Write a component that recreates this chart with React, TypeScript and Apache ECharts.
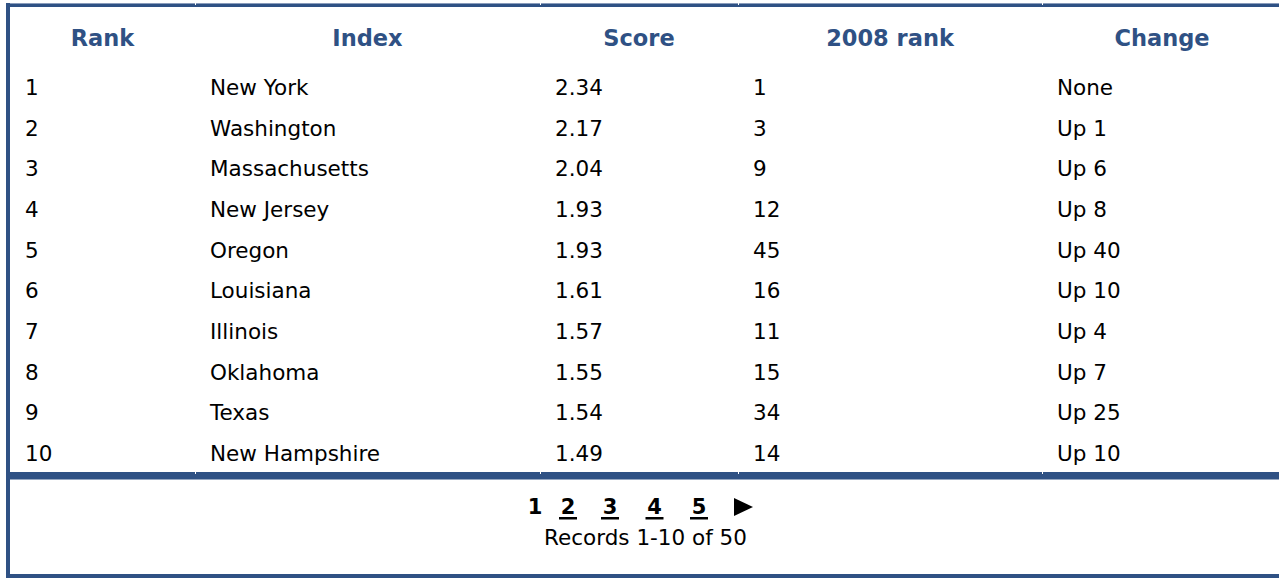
import React, { useEffect, useRef } from "react";
import * as echarts from "echarts";

// ---- data ----
const columns = ["Rank", "Index", "Score", "2008 rank", "Change"];
const ranks = [1, 2, 3, 4, 5, 6, 7, 8, 9, 10];
const states = [
  "New York",
  "Washington",
  "Massachusetts",
  "New Jersey",
  "Oregon",
  "Louisiana",
  "Illinois",
  "Oklahoma",
  "Texas",
  "New Hampshire",
];
const scores = [2.34, 2.17, 2.04, 1.93, 1.93, 1.61, 1.57, 1.55, 1.54, 1.49];
const rank2008 = [1, 3, 9, 12, 45, 16, 11, 15, 34, 14];
const changes = ["None", "Up 1", "Up 6", "Up 8", "Up 40", "Up 10", "Up 4", "Up 7", "Up 25", "Up 10"];
const pages = ["1", "2", "3", "4", "5"];
const currentPage = "1";
const recordsText = "Records 1-10 of 50";

// ---- layout ----
const W = 1279;
const H = 581;
const BLUE = "#2f5184";
const FONT = '"DejaVu Sans", Verdana, sans-serif';
const colEdges = [10, 195, 540, 738, 1042, 1282];
const pageX = [535, 568, 610, 654.5, 699];

export default function App() {
  const ref = useRef<HTMLDivElement>(null);

  useEffect(() => {
    if (!ref.current) return;
    const chart = echarts.init(ref.current, null, { renderer: "svg" });

    const graphic: any[] = [];
    // borders
    graphic.push({ type: "rect", shape: { x: 6, y: 3, width: W - 6, height: 1 }, style: { fill: "#8a9cbb" } });
    graphic.push({ type: "rect", shape: { x: 6, y: 4, width: W - 6, height: 3 }, style: { fill: BLUE } });
    graphic.push({ type: "rect", shape: { x: 6, y: 3, width: 4, height: 575 }, style: { fill: BLUE } });
    graphic.push({ type: "rect", shape: { x: 6, y: 472, width: W - 6, height: 7.5 }, style: { fill: BLUE } });
    graphic.push({ type: "rect", shape: { x: 6, y: 574, width: W - 6, height: 4 }, style: { fill: BLUE } });
    // tiny notches at column boundaries
    colEdges.slice(1, 5).forEach((x) => {
      graphic.push({ type: "rect", shape: { x: x, y: 3, width: 1, height: 2 }, style: { fill: "#ffffff" } });
      graphic.push({ type: "rect", shape: { x: x, y: 472, width: 1, height: 2 }, style: { fill: "#ffffff" } });
    });
    // headers
    columns.forEach((c, k) => {
      graphic.push({
        type: "text",
        style: {
          x: (colEdges[k] + colEdges[k + 1]) / 2,
          y: 38,
          text: c,
          fill: BLUE,
          fontFamily: FONT,
          fontWeight: "bold",
          fontSize: 22.5,
          align: "center",
          verticalAlign: "middle",
        },
      });
    });
    // pagination
    pages.forEach((p, k) => {
      graphic.push({
        type: "text",
        style: {
          x: pageX[k],
          y: 507,
          text: p,
          fill: "#000",
          fontFamily: FONT,
          fontWeight: "bold",
          fontSize: 21,
          align: "center",
          verticalAlign: "middle",
        },
      });
      if (p !== currentPage) {
        graphic.push({
          type: "rect",
          shape: { x: pageX[k] - 9, y: 517, width: 18, height: 2.5 },
          style: { fill: "#000" },
        });
      }
    });
    graphic.push({
      type: "polygon",
      shape: { points: [[734, 498], [734, 516], [753, 507]] },
      style: { fill: "#000" },
    });
    graphic.push({
      type: "text",
      style: {
        x: 645.5,
        y: 537,
        text: recordsText,
        fill: "#000",
        fontFamily: FONT,
        fontSize: 21.5,
        align: "center",
        verticalAlign: "middle",
      },
    });

    const option: any = {
      animation: false,
      backgroundColor: "#ffffff",
      grid: { left: 0, right: 0, top: 66, height: 407 },
      xAxis: { type: "value", min: 0, max: W, show: false },
      yAxis: { type: "category", data: ranks.map(String), inverse: true, show: false },
      series: [
        {
          type: "custom",
          data: ranks.map((_, i) => [0, i]),
          encode: { x: 0, y: 1 },
          renderItem: (params: any, api: any) => {
            const i = params.dataIndex;
            const y = api.coord([0, i])[1];
            const vals = [
              String(ranks[i]),
              states[i],
              scores[i].toFixed(2),
              String(rank2008[i]),
              changes[i],
            ];
            return {
              type: "group",
              children: vals.map((v, c) => ({
                type: "text",
                style: {
                  x: colEdges[c] + 15,
                  y: y + 1,
                  text: v,
                  fill: "#000",
                  fontFamily: FONT,
                  fontSize: 21.5,
                  align: "left",
                  verticalAlign: "middle",
                },
              })),
            };
          },
        },
      ],
      graphic,
    };
    chart.setOption(option);
    return () => chart.dispose();
  }, []);

  return (
    <div
      ref={ref}
      style={{ position: "absolute", left: 0, top: 0, width: W, height: H, background: "#fff" }}
    />
  );
}
